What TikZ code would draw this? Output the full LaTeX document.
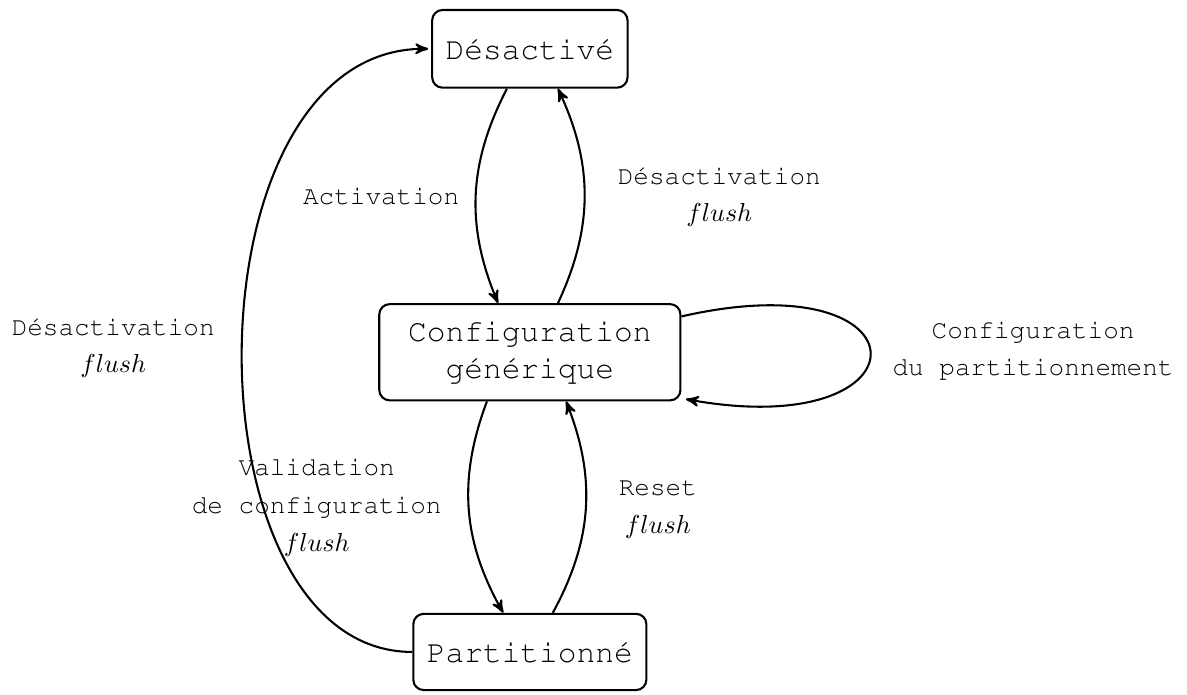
\documentclass[tikz,border=0pt]{standalone}
\usepackage{fontspec}
\setmonofont{Liberation Mono}
\usetikzlibrary{arrows}

% Courier fin, comme dans l'original
\newcommand\courier{\fontencoding{T1}\fontfamily{pcr}\selectfont}

\tikzset{
  etat/.style={draw, thick, rounded corners=4pt, align=center,
    font=\courier\fontsize{12}{14}\selectfont},
  transition/.style={thick, ->, >=stealth'},
  etiquette/.style={align=center, font=\courier\fontsize{10}{14.5}\selectfont}
}

\begin{document}
\begin{tikzpicture}
  \useasboundingbox (0,0) rectangle (16.04,-9.39);

  % Etats
  \node[etat, minimum width=2.64cm, minimum height=1.05cm] (desactive) at (7.16,-0.66) {Désactivé};
  \node[etat, minimum width=4.07cm, minimum height=1.3cm] (config) at (7.16,-4.76) {Configuration\\générique};
  \node[etat, minimum width=3.15cm, minimum height=1.03cm] (partition) at (7.16,-8.81) {Partitionné};

  % Transitions entre etats voisins
  \draw[transition] ([xshift=-0.31cm]desactive.south) to[bend right=25] ([xshift=-0.43cm]config.north);
  \draw[transition] ([xshift=0.38cm]config.north) to[bend right=25] ([xshift=0.38cm]desactive.south);
  \draw[transition] ([xshift=-0.58cm]config.south) to[bend right=25] ([xshift=-0.36cm]partition.north);
  \draw[transition] ([xshift=0.31cm]partition.north) to[bend right=25] ([xshift=0.49cm]config.south);

  % Boucle sur la configuration
  \draw[transition] ([yshift=-0.18cm]config.north east) .. controls (12.6,-3.5) and (12.6,-6.0) .. ([xshift=0.06cm,yshift=0.03cm]config.south east);

  % Retour direct vers l'etat desactive
  \draw[transition] (partition.west) .. controls (2.47,-8.81) and (2.47,-0.64) .. ([xshift=-0.04cm]desactive.west);

  % Etiquettes
  \node[etiquette] (activation) at (5.15,-2.65) {Activation};
  \node[etiquette] (desact1) at (9.72,-2.66) {Désactivation\\$flush$};
  \node[etiquette] (desact2) at (1.53,-4.70) {Désactivation\\$flush$};
  \node[etiquette] (partconf) at (13.96,-4.74) {Configuration\\du partitionnement};
  \node[etiquette] (validation) at (4.28,-6.86) {Validation\\de configuration\\$flush$};
  \node[etiquette] (reset) at (8.89,-6.89) {Reset\\$flush$};
\end{tikzpicture}
\end{document}
